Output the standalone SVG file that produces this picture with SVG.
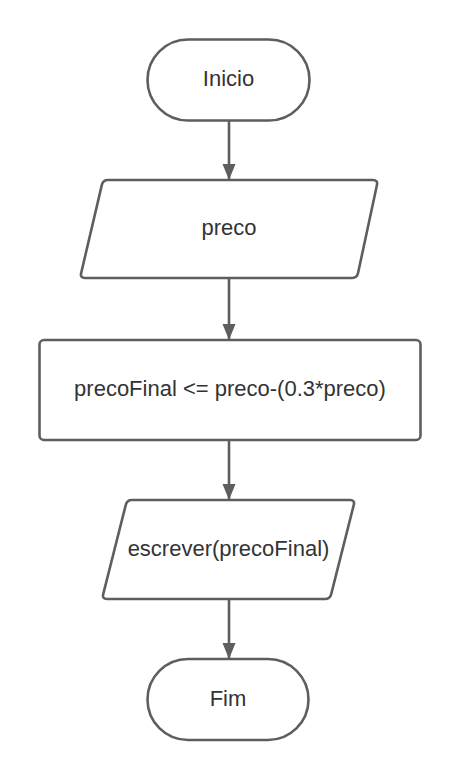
<svg xmlns="http://www.w3.org/2000/svg" width="460" height="780" viewBox="0 0 460 780">
<defs>
<style>
.shape{fill:#ffffff;stroke:#5e5e5e;stroke-width:2.6;stroke-linejoin:round}
.lbl{font-family:"Liberation Sans",Arial,sans-serif;font-size:22px;fill:#333333;text-anchor:middle}
.conn{stroke:#5e5e5e;stroke-width:2.6;fill:none}
</style>
<marker id="arr" markerUnits="userSpaceOnUse" markerWidth="14" markerHeight="18" refX="6.5" refY="16" orient="auto-start-reverse" viewBox="0 0 13 16">
<path d="M0,0 L13,0 L6.5,16 Z" fill="#5e5e5e" transform="rotate(0)"/>
</marker>
<marker id="ah" markerUnits="userSpaceOnUse" markerWidth="18" markerHeight="14" refX="16" refY="7" orient="auto" viewBox="0 0 18 14">
<path d="M0,0.5 L16,7 L0,13.5 Z" fill="#5e5e5e"/>
</marker>
</defs>
<rect width="460" height="780" fill="#ffffff"/>
<g id="connectors">
<path class="conn" d="M229,120 V180" marker-end="url(#ah)"/>
<path class="conn" d="M229,278 V340" marker-end="url(#ah)"/>
<path class="conn" d="M229,440 V500" marker-end="url(#ah)"/>
<path class="conn" d="M229,599 V659" marker-end="url(#ah)"/>
</g>
<g id="inicio">
<rect class="shape" x="147.5" y="39.5" width="162" height="81" rx="40.5"/>
<text class="lbl" x="228.5" y="86">Inicio</text>
</g>
<g id="preco">
<path class="shape" d="M108,180 H373 Q378,180 376.95,184.9 L358.05,273.1 Q357,278 352,278 H85 Q80,278 81.15,273.1 L101.85,184.9 Q103,180 108,180 Z"/>
<text class="lbl" x="229" y="235">preco</text>
</g>
<g id="calc">
<rect class="shape" x="39.5" y="340" width="381" height="100" rx="4.5"/>
<text class="lbl" x="230" y="396">precoFinal &lt;= preco-(0.3*preco)</text>
</g>
<g id="escrever">
<path class="shape" d="M132,500 H350 Q355,500 353.78,504.85 L331.22,594.15 Q330,599 325,599 H107 Q102,599 103.22,594.15 L125.78,504.85 Q127,500 132,500 Z"/>
<text class="lbl" x="228.5" y="556">escrever(precoFinal)</text>
</g>
<g id="fim">
<rect class="shape" x="147.5" y="659" width="161" height="81" rx="40.5"/>
<text class="lbl" x="228" y="706">Fim</text>
</g>
</svg>
